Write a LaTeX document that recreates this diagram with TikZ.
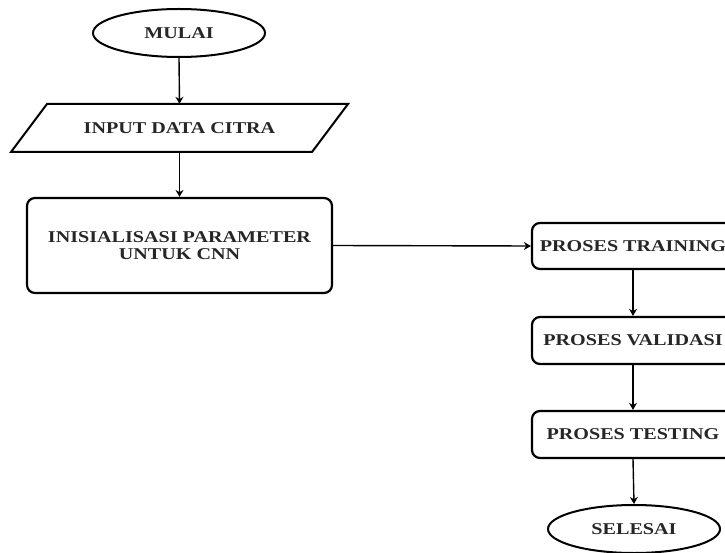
\documentclass[tikz,border=0pt]{standalone}
\usepackage{fontspec}
\setmainfont{Liberation Serif}[FakeStretch=1.22]
\usetikzlibrary{shapes.geometric,arrows.meta}
\begin{document}
\begin{tikzpicture}[x=1pt,y=-1pt,
  every node/.style={font=\fontsize{16.5pt}{17pt}\selectfont\bfseries,text=black!85},
  term/.style={draw,line width=2pt,ellipse,minimum width=172pt,minimum height=48pt,inner sep=0pt},
  procbox/.style={draw,line width=2.2pt,rounded corners=8pt,inner sep=0pt,align=center},
  shapeline/.style={line width=2pt,line join=miter},
  conn/.style={line width=1.4pt,-{Stealth[length=7pt,width=8pt]}}]
\useasboundingbox (0,0) rectangle (725,553);
\clip (0,0) rectangle (725,553);
\node[term] (mulai) at (179,33) {MULAI};
\node[minimum width=265pt,minimum height=48pt,inner sep=0pt] (input) at (179.5,128) {INPUT DATA CITRA};
\draw[shapeline] (47,104) -- (348,104) -- (312,152) -- (11,152) -- cycle;
\node[procbox,minimum width=305pt,minimum height=95pt] (init) at (179.5,245.5) {INISIALISASI PARAMETER\\UNTUK CNN};
\node[procbox,minimum width=202pt,minimum height=46pt] (train) at (633,246) {PROSES TRAINING};
\node[procbox,minimum width=202pt,minimum height=47pt] (valid) at (633,340.5) {PROSES VALIDASI};
\node[procbox,minimum width=202pt,minimum height=47pt] (test) at (633,434.5) {PROSES TESTING};
\node[term] (selesai) at (634,529) {SELESAI};
\draw[conn] (mulai.south) -- (input.north);
\draw[conn] (input.south) -- (init.north);
\draw[conn] (init.east) -- (train.west);
\draw[conn] (train.south) -- (valid.north);
\draw[conn] (valid.south) -- (test.north);
\draw[conn] (test.south) -- (selesai.north);
\end{tikzpicture}
\end{document}
